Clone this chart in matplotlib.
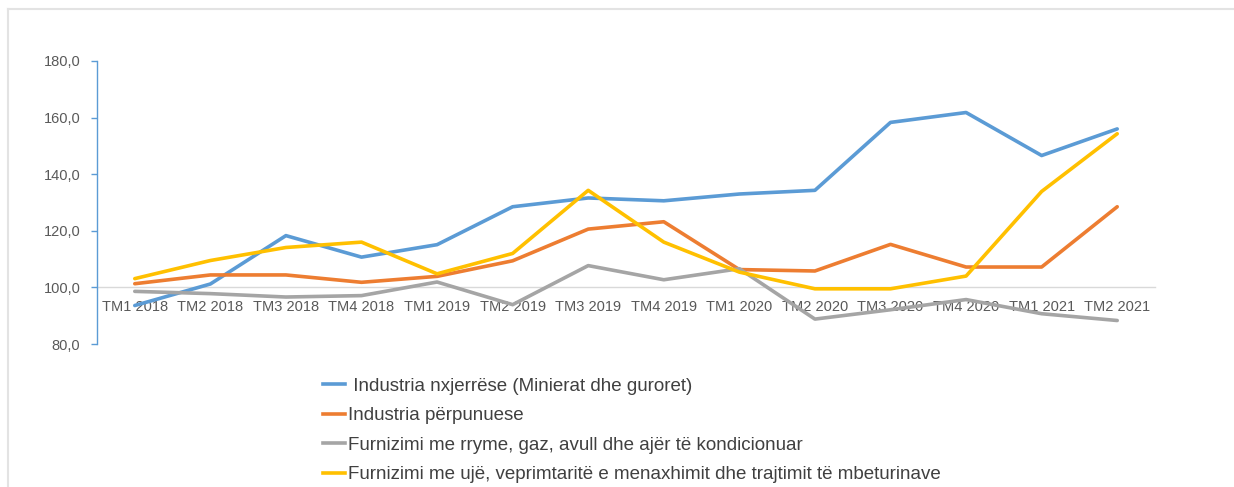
import matplotlib.pyplot as plt
from matplotlib.lines import Line2D

plt.rcParams['font.family'] = ['Liberation Sans', 'DejaVu Sans']

periudhat = ['TM1 2018', 'TM2 2018', 'TM3 2018', 'TM4 2018',
             'TM1 2019', 'TM2 2019', 'TM3 2019', 'TM4 2019',
             'TM1 2020', 'TM2 2020', 'TM3 2020', 'TM4 2020',
             'TM1 2021', 'TM2 2021']

nxjerrese = [93.6, 101.2, 118.3, 110.7, 115.1, 128.5, 131.6, 130.6,
             133.0, 134.3, 158.3, 161.8, 146.6, 156.0]
perpunuese = [101.3, 104.4, 104.4, 101.8, 103.9, 109.4, 120.6, 123.2,
              106.3, 105.8, 115.2, 107.2, 107.2, 128.5]
energji = [98.6, 97.8, 96.6, 97.1, 101.9, 93.9, 107.7, 102.7,
           106.6, 88.8, 92.1, 95.7, 90.7, 88.3]
uje = [103.1, 109.5, 114.1, 116.0, 104.8, 112.0, 134.3, 116.0,
       105.4, 99.5, 99.5, 104.0, 133.9, 154.3]

emrat = [' Industria nxjerrëse (Minierat dhe guroret)',
         'Industria përpunuese',
         'Furnizimi me rryme, gaz, avull dhe ajër të kondicionuar',
         'Furnizimi me ujë, veprimtaritë e menaxhimit dhe trajtimit të mbeturinave']
ngjyrat = ['#5B9BD5', '#ED7D31', '#A5A5A5', '#FFC000']
yticks = [80, 100, 120, 140, 160, 180]

fig = plt.figure(figsize=(12.34, 4.87), dpi=100)

# kuadri i grafikut (majtas dhe lart)
fig.add_artist(Line2D([8 / 1234, 8 / 1234], [0, 1 - 8.5 / 487], color='#E3E3E3', linewidth=1.5))
fig.add_artist(Line2D([8 / 1234, 1], [1 - 8.5 / 487, 1 - 8.5 / 487], color='#E3E3E3', linewidth=1.5))

ax = fig.add_axes([97 / 1234, 143 / 487, (1155 - 97) / 1234, (344 - 61) / 487])

x = list(range(len(periudhat)))
for seri, ngjyre in zip([nxjerrese, perpunuese, energji, uje], ngjyrat):
    ax.plot(x, seri, color=ngjyre, linewidth=2.6, solid_capstyle='round', zorder=3)

ax.set_xlim(-0.5, len(periudhat) - 0.5)
ax.set_ylim(80, 180)
ax.set_yticks(yticks)
ax.set_yticklabels([f'{v:.1f}'.replace('.', ',') for v in yticks])
ax.set_xticks(x)
ax.set_xticklabels(periudhat)

for s in ['top', 'right']:
    ax.spines[s].set_visible(False)
ax.spines['left'].set_color('#5B9BD5')
ax.spines['left'].set_linewidth(1.0)
ax.spines['bottom'].set_position(('data', 100))
ax.spines['bottom'].set_color('#D9D9D9')
ax.spines['bottom'].set_linewidth(1.0)
ax.spines['bottom'].set_zorder(1)

ax.tick_params(axis='y', colors='#5B9BD5', length=4, width=1.0, labelcolor='#595959',
               labelsize=10.5, pad=8)
ax.tick_params(axis='x', length=0, labelcolor='#595959', labelsize=10.5, pad=9)

# legjenda poshte grafikut
handles = [Line2D([0], [0], color=c, linewidth=2.6) for c in ngjyrat]
leg = fig.legend(handles, emrat, loc='upper left', bbox_to_anchor=(315 / 1234, 1 - 370 / 487),
                 frameon=False, fontsize=13.5, handlelength=1.2, handletextpad=0.15,
                 labelspacing=0.66, borderaxespad=0)
for t in leg.get_texts():
    t.set_color('#404040')

fig.savefig('out.png', dpi=100)
